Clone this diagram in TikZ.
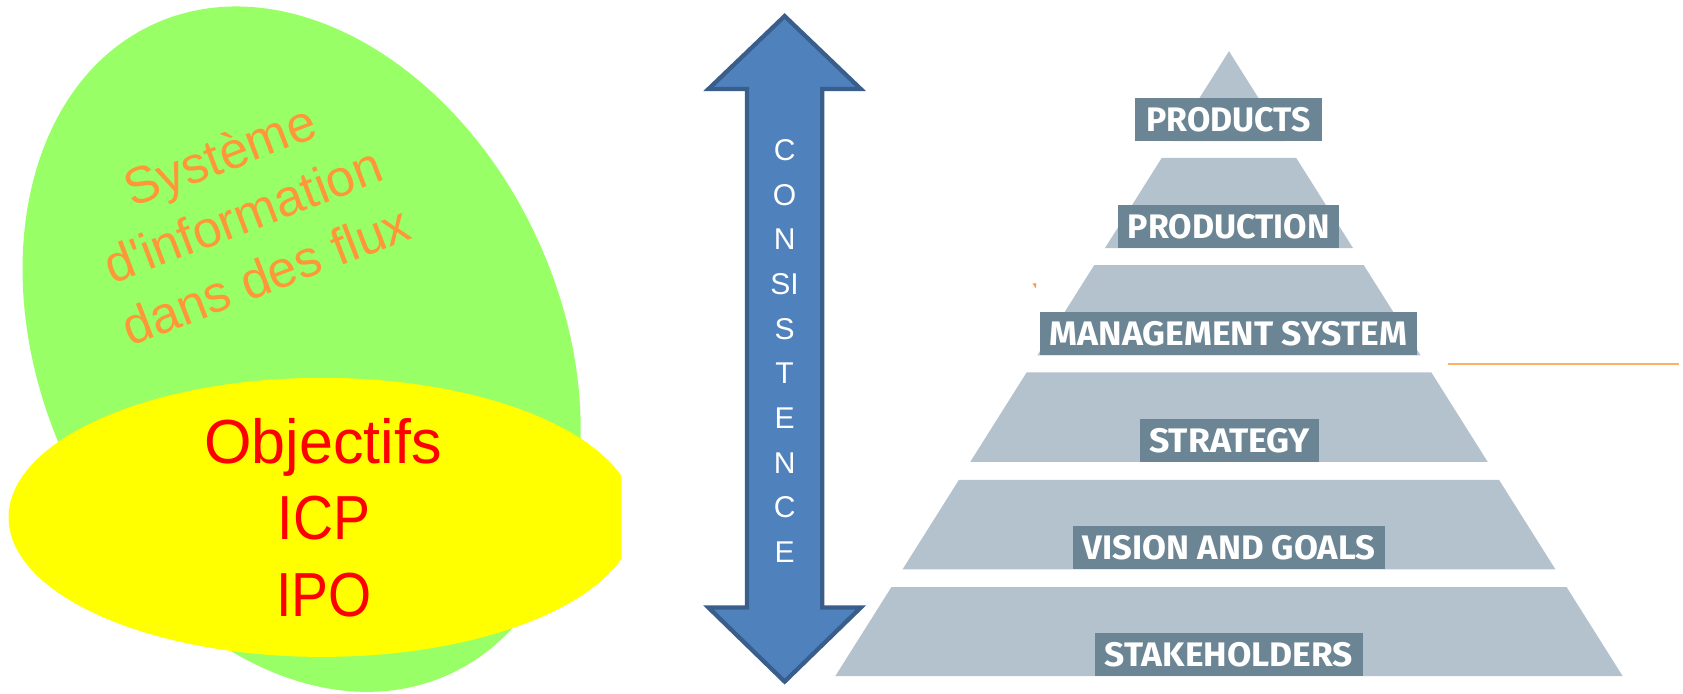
\documentclass[tikz,border=0pt]{standalone}
\usepackage{fontspec}
\usepackage{graphicx}
\setmainfont{Liberation Sans}[Ligatures=TeXOff]
\newfontfamily\dinfont{Fira Sans}
\definecolor{eggreen}{RGB}{153,255,102}
\definecolor{egyellow}{RGB}{255,255,0}
\definecolor{orangetxt}{RGB}{255,150,55}
\definecolor{redtxt}{RGB}{255,0,0}
\definecolor{arrowblue}{RGB}{79,129,189}
\definecolor{arrowdark}{RGB}{58,94,140}
\definecolor{bandgrey}{RGB}{180,194,206}
\definecolor{boxgrey}{RGB}{107,133,148}
\definecolor{thinorange}{RGB}{250,178,100}
\newcommand\pyrband[2]{\fill[band] ({1145-0.63*(#1-47.7)},#1) -- ({1145+0.63*(#1-47.7)},#1) -- ({1145+0.63*(#2-47.7)},#2) -- ({1145-0.63*(#2-47.7)},#2) -- cycle;}
\newcommand\pyrlabel[2]{\resizebox{#1pt}{22.5pt}{\dinfont\bfseries #2}}
\tikzset{
  band/.style={fill=bandgrey},
  pbox/.style={fill=boxgrey, text=white, inner sep=0pt, minimum height=40pt},
  redlabel/.style={text=redtxt, anchor=base, inner sep=0pt, font=\fontsize{58}{70}\selectfont},
  arrowshape/.style={draw=arrowdark, line width=4pt, fill=arrowblue, line join=miter},
}
\begin{document}
\begin{tikzpicture}[x=1pt,y=-1pt]
\useasboundingbox (0,0) rectangle (1568,646);
% green ellipse
\fill[eggreen, rotate around={24.3:(281,325.3)}] (281,325.3) ellipse [x radius=242.5pt, y radius=332.7pt];
% yellow ellipse, cut at the right
\begin{scope}
\clip (0,0) rectangle (579,646);
\fill[egyellow] (300,482) ellipse [x radius=292pt, y radius=130pt];
\end{scope}
% texts
\node[rotate=21, text=orangetxt, align=center, inner sep=0pt, font=\fontsize{48}{60}\selectfont] (sys) at (226,200) {Système\\d'information\\dans des flux};
\node[redlabel] (obj) at (301,431.5) {\scalebox{0.98}[1]{Objectifs}};
\node[redlabel] (icp) at (302,503) {\scalebox{0.89}[1]{ICP}};
\node[redlabel] (ipo) at (302,574.6) {\scalebox{0.89}[1]{IPO}};
% double arrow
\draw[arrowshape] (731,15) -- (802,83) -- (766,83) -- (766,566) -- (802,566) -- (731,635) -- (660,566) -- (696,566) -- (696,83) -- (660,83) -- cycle;
\node[text=white, align=center, inner sep=0pt, font=\fontsize{28}{41.6}\selectfont] (cons) at (731,327) {C\\O\\N\\SI\\S\\T\\E\\N\\C\\E};
% pyramid
\fill[band] (1145,47.7) -- ({1145+0.63*(131.4-47.7)},131.4) -- ({1145-0.63*(131.4-47.7)},131.4) -- cycle;
\pyrband{147}{231.1}
\pyrband{247}{331.1}
\pyrband{347}{430.3}
\pyrband{447}{530.5}
\pyrband{547}{630}
\node[pbox, minimum width=173.5pt] (products) at (1144.5,111.4) {\pyrlabel{153}{PRODUCTS}};
\node[pbox, minimum width=206pt] (production) at (1144.7,211.1) {\pyrlabel{188}{PRODUCTION}};
\node[pbox, minimum width=351.6pt] (mgmt) at (1144.5,311.1) {\pyrlabel{333}{MANAGEMENT SYSTEM}};
\node[pbox, minimum width=166pt] (strategy) at (1145.5,410.3) {\pyrlabel{150}{STRATEGY}};
\node[pbox, minimum width=290.6pt] (vision) at (1145,510.5) {\pyrlabel{273}{VISION AND GOALS}};
\node[pbox, minimum width=249.2pt] (stake) at (1145,610) {\pyrlabel{231}{STAKEHOLDERS}};
% stray marks
\coordinate (la) at (1349,339);
\coordinate (lb) at (1564,339);
\draw[thinorange, line width=1.2pt] (la) -- (lb);
\fill[orangetxt] (962,264) -- (965.5,264) -- (965,268.5) -- cycle;
\end{tikzpicture}
\end{document}
